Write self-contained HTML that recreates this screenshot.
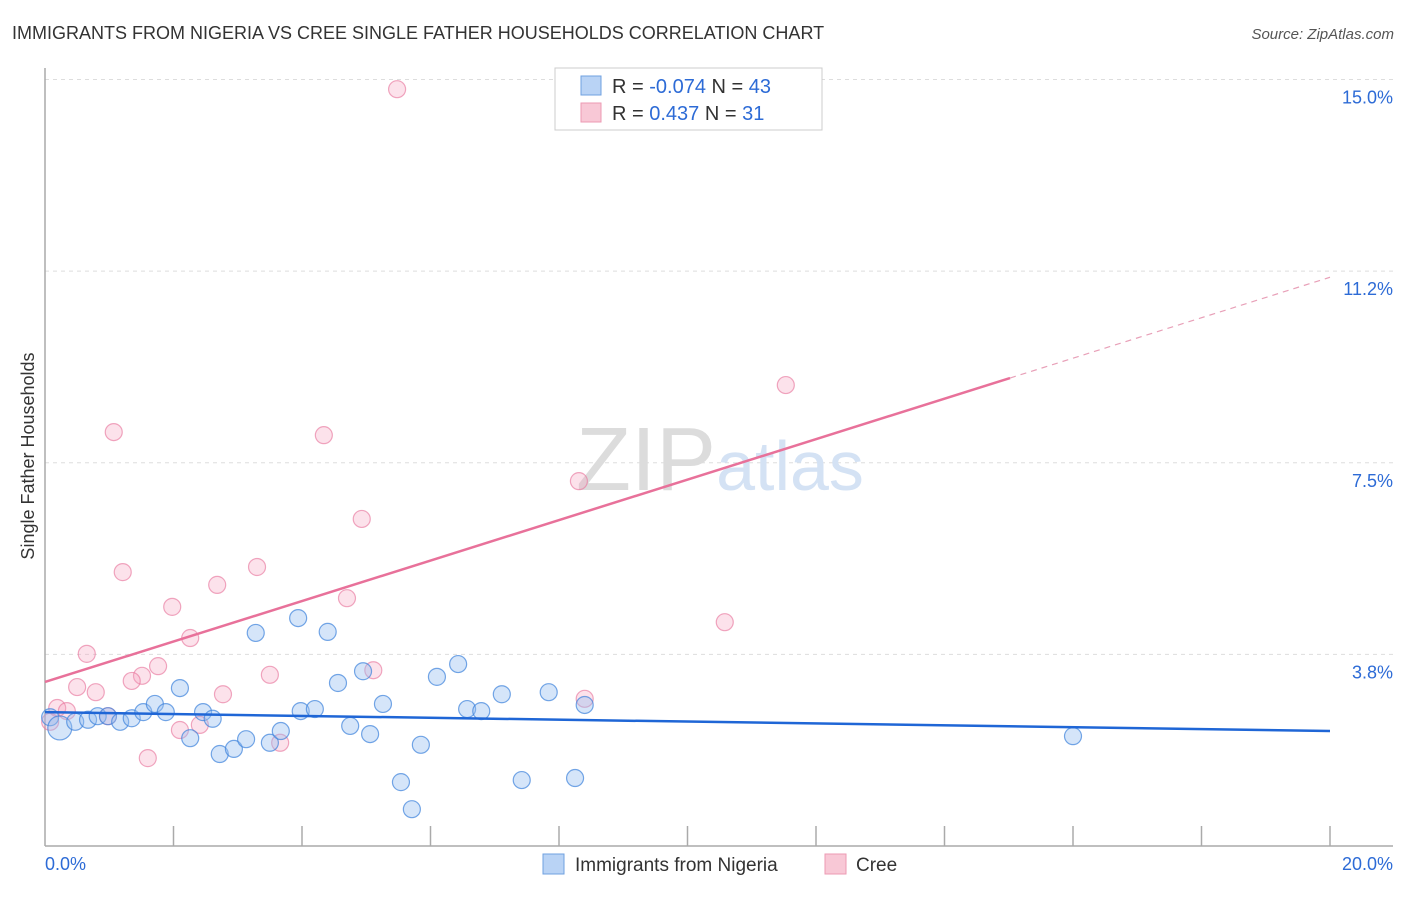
<!DOCTYPE html>
<html><head><meta charset="utf-8"><style>
body{margin:0;background:#fff;font-family:"Liberation Sans",sans-serif;}
svg text{font-family:"Liberation Sans",sans-serif;}
</style></head><body>
<svg id="chart" width="1406" height="892">
<text x="12" y="39" font-size="18" fill="#333">IMMIGRANTS FROM NIGERIA VS CREE SINGLE FATHER HOUSEHOLDS CORRELATION CHART</text>
<text x="1394" y="39" font-size="15" fill="#555" text-anchor="end" font-style="italic">Source: ZipAtlas.com</text>
<g id="grid"></g>
<text x="720" y="490" font-size="90" fill="#e4e4e4" text-anchor="middle" font-family="Liberation Serif"><tspan fill="#dcdcdc">ZIP</tspan><tspan fill="#d4e2f4" font-family="Liberation Sans" font-size="70">atlas</tspan></text>
<g id="axes"></g>
<g id="points"></g>
<g id="lines"></g>
<text transform="translate(34,456) rotate(-90)" font-size="18" fill="#333" text-anchor="middle">Single Father Households</text>
<g>
<rect x="555" y="68" width="267" height="62" fill="#fff" stroke="#ccc"/>
<rect x="581" y="76" width="20" height="19" fill="#b9d3f5" stroke="#6fa0e0"/>
<rect x="581" y="103" width="20" height="19" fill="#f8c8d6" stroke="#ec9ab3"/>
<text x="612" y="93" font-size="20" fill="#333">R = <tspan fill="#2d6bd6">-0.074</tspan>   N = <tspan fill="#2d6bd6">43</tspan></text>
<text x="612" y="120" font-size="20" fill="#333">R =   <tspan fill="#2d6bd6">0.437</tspan>   N =  <tspan fill="#2d6bd6">31</tspan></text>
</g>
<g>
<rect x="543" y="854" width="21" height="20" fill="#b9d3f5" stroke="#6fa0e0"/>
<text x="575" y="871" font-size="19" fill="#333">Immigrants from Nigeria</text>
<rect x="825" y="854" width="21" height="20" fill="#f8c8d6" stroke="#ec9ab3"/>
<text x="856" y="871" font-size="19" fill="#333">Cree</text>
</g>
</svg>
<script>
const yTicks=[3.75,7.5,11.25,15];
const yTickLabels=["3.8%","7.5%","11.2%","15.0%"];
const xTickCount=10;
const blueX=[0.08,0.23,0.47,0.67,0.82,0.98,1.17,1.35,1.53,1.71,1.88,2.10,2.26,2.46,2.61,2.72,2.94,3.13,3.28,3.50,3.67,3.94,3.98,4.20,4.40,4.56,4.75,4.95,5.06,5.26,5.54,5.71,5.85,6.10,6.43,6.57,6.79,7.11,7.42,7.84,8.25,8.40,16.0];
const blueY=[2.52,2.31,2.43,2.47,2.54,2.54,2.43,2.50,2.62,2.78,2.62,3.09,2.11,2.62,2.49,1.80,1.90,2.09,4.17,2.02,2.25,4.46,2.64,2.68,4.19,3.19,2.35,3.42,2.19,2.78,1.25,0.72,1.98,3.31,3.56,2.68,2.64,2.97,1.29,3.01,1.33,2.76,2.15];
const pinkX=[5.48,11.53,1.07,4.34,8.31,4.93,1.21,3.30,2.68,4.70,1.98,10.58,2.26,0.65,1.76,5.11,1.51,3.50,1.35,0.50,0.79,2.77,8.40,0.19,0.34,0.98,2.10,2.41,3.66,1.60,0.08];
const pinkY=[14.81,9.02,8.10,8.04,7.14,6.40,5.36,5.46,5.11,4.85,4.68,4.38,4.07,3.76,3.52,3.44,3.33,3.35,3.23,3.11,3.01,2.97,2.88,2.70,2.64,2.54,2.27,2.37,2.02,1.72,2.43];
const blueTrend=[2.62,2.25];
const pinkTrend=[3.21,11.13];
const pinkSolidEnd=15.02;
const NS="http://www.w3.org/2000/svg";
const sx=v=>45+v*64.25, sy=v=>846-v*51.1;
function mk(t,a,p){const e=document.createElementNS(NS,t);for(const k in a)e.setAttribute(k,a[k]);p.appendChild(e);return e;}
const grid=document.getElementById('grid'),axes=document.getElementById('axes'),pts=document.getElementById('points'),lines=document.getElementById('lines');
yTicks.forEach((v,i)=>{
 const l=mk('line',{x1:45,x2:1393,y1:sy(v),y2:sy(v),stroke:'#ddd','stroke-dasharray':'4,4'},grid);
 
 
 const t=mk('text',{x:1393,y:sy(v)+24,'font-size':18,fill:'#2d6bd6','text-anchor':'end'},axes);
 t.textContent=yTickLabels[i];
 
 
});
mk('line',{x1:45,x2:45,y1:68,y2:846,stroke:'#aaa','stroke-width':1.5},axes);
mk('line',{x1:45,x2:1393,y1:846,y2:846,stroke:'#aaa','stroke-width':1.5},axes);
for(let i=1;i<=xTickCount;i++){
 const tk=mk('line',{x1:sx(i*2),x2:sx(i*2),y1:826,y2:846,stroke:'#aaa','stroke-width':1.5},axes);
 
 
}
const x0=mk('text',{x:45,y:870,'font-size':18,fill:'#2d6bd6'},axes);x0.textContent='0.0%';


const x1=mk('text',{x:1393,y:870,'font-size':18,fill:'#2d6bd6','text-anchor':'end'},axes);x1.textContent='20.0%';


pinkX.forEach((x,i)=>{
 const c=mk('circle',{cx:sx(x),cy:sy(pinkY[i]),r:8.5,fill:'rgba(244,160,188,0.3)',stroke:'rgba(232,120,158,0.65)','stroke-width':1.2},pts);
 
 
});
blueX.forEach((x,i)=>{
 const c=mk('circle',{cx:sx(x),cy:sy(blueY[i]),r:i==1?12:8.5,fill:'rgba(150,190,240,0.4)',stroke:'rgba(60,130,220,0.7)','stroke-width':1.2},pts);
 
 
});
const bl=mk('line',{x1:sx(0),y1:sy(blueTrend[0]),x2:sx(20),y2:sy(blueTrend[1]),stroke:'#1f66d6','stroke-width':2.5},lines);


const pv=x=>pinkTrend[0]+(pinkTrend[1]-pinkTrend[0])*x/20;
const pl=mk('line',{x1:sx(0),y1:sy(pv(0)),x2:sx(pinkSolidEnd),y2:sy(pv(pinkSolidEnd)),stroke:'#e8719a','stroke-width':2.5},lines);


const pd=mk('line',{x1:sx(pinkSolidEnd),y1:sy(pv(pinkSolidEnd)),x2:sx(20),y2:sy(pv(20)),stroke:'#e8a0b8','stroke-width':1.2,'stroke-dasharray':'6,5'},lines);


</script>
</body></html>
